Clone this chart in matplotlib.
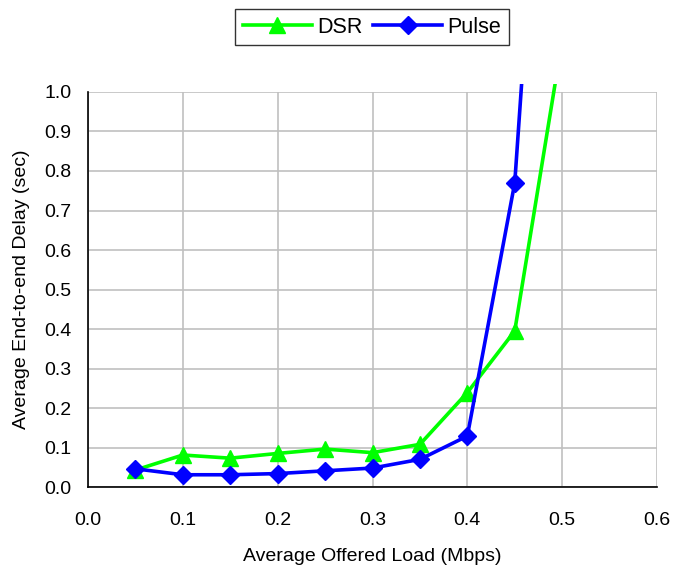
import matplotlib
matplotlib.use("Agg")
import matplotlib.pyplot as plt
from matplotlib.patches import Rectangle

plt.rcParams['font.family'] = ['Liberation Sans', 'DejaVu Sans']

load = [0.05, 0.10, 0.15, 0.20, 0.25, 0.30, 0.35, 0.40, 0.45, 0.50]
dsr = [0.043, 0.081, 0.073, 0.085, 0.096, 0.087, 0.108, 0.239, 0.395, 1.13]
pulse = [0.046, 0.031, 0.031, 0.034, 0.041, 0.048, 0.070, 0.129, 0.770, 2.5]

fig = plt.figure(figsize=(6.73, 5.70), dpi=100)
ax = fig.add_axes([0.1308, 0.1456, 0.8454, 0.693])

l1, = ax.plot(load, dsr, color='#00ff00', lw=2.6, marker='^', ms=12, label='DSR')
l2, = ax.plot(load, pulse, color='#0000ff', lw=2.6, marker='D', ms=9.5, label='Pulse')

# lines run a little past the top of the plot area, as in the original
clip = Rectangle((0, 0), 1, 1.02, transform=ax.transAxes)
for ln in (l1, l2):
    ln.set_clip_path(clip)

ax.set_xlim(0, 0.6)
ax.set_ylim(0, 1.0)
ax.set_xticks([i / 10 for i in range(7)])
ax.set_yticks([i / 10 for i in range(11)])
ax.xaxis.set_major_formatter(matplotlib.ticker.FormatStrFormatter('%.1f'))
ax.yaxis.set_major_formatter(matplotlib.ticker.FormatStrFormatter('%.1f'))
ax.grid(True, color='#c0c0c0', lw=1.2)
ax.set_axisbelow(True)
for s in ('top', 'right'):
    ax.spines[s].set_visible(False)
for s in ('left', 'bottom'):
    ax.spines[s].set_linewidth(1.2)
ax.tick_params(labelsize=14, length=0)
ax.tick_params(axis='x', pad=18)
ax.tick_params(axis='y', pad=12)

ax.set_xlabel('Average Offered Load (Mbps)', fontsize=14, labelpad=14)
ax.set_ylabel('Average End-to-end Delay (sec)', fontsize=14, labelpad=10)

fig.legend(handles=[l1, l2], loc='center', bbox_to_anchor=(0.553, 0.952), ncol=2,
           fontsize=15.5, frameon=True, fancybox=False, edgecolor='black',
           handlelength=3.2, handletextpad=0.25, columnspacing=0.5,
           borderpad=0.35)

fig.savefig('out.png', dpi=100)
